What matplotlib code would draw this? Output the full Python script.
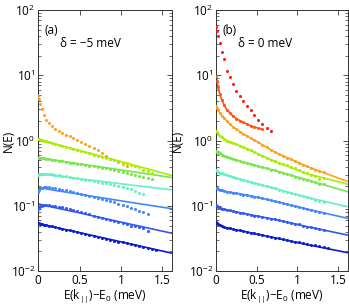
import numpy as np
import matplotlib
matplotlib.use("Agg")
import matplotlib.pyplot as plt

plt.rcParams['font.family'] = ['Open Sans', 'DejaVu Sans']
plt.rcParams['mathtext.fontset'] = 'custom'
plt.rcParams['mathtext.rm'] = 'Open Sans'
plt.rcParams['mathtext.it'] = 'Open Sans:italic'

# energy grid of the measured points (meV)
x_dots = [0, 0.01, 0.025, 0.045, 0.07, 0.1, 0.135, 0.17, 0.21, 0.25, 0.29, 0.335,
          0.38, 0.425, 0.47, 0.52, 0.57, 0.62, 0.67, 0.72, 0.77, 0.82, 0.87, 0.92,
          0.97, 1.02, 1.07, 1.12, 1.17, 1.22, 1.27, 1.32, 1.37, 1.42]
# energy grid of the fitted curves (meV)
x_fit = [0, 0.02, 0.05, 0.1, 0.2, 0.33, 0.5, 0.72, 1.12, 1.65]

c_red = '#ff1a1a'
c_ored = '#ff5512'
c_orange = '#ffa21e'
c_ygreen = '#a8ee00'
c_green = '#78e64a'
c_cyan = '#66f0c6'
c_lblue = '#4088ff'
c_blue = '#3358f2'
c_dblue = '#0a1ecf'

# ---- panel (a): delta = -5 meV ----
a_orange = [4.8, 4.3, 3.7, 3.1, 2.5, 2.1, 1.85, 1.65, 1.48, 1.38, 1.3, 1.24, 1.17,
            1.1, 1.03, 0.96, 0.9, 0.83, 0.76, 0.71, 0.64, 0.58, 0.53, 0.5, 0.47,
            0.44, 0.41]
a_ygreen = [1.05, 1.04, 1.03, 1.01, 0.99, 0.97, 0.94, 0.91, 0.88, 0.86, 0.83, 0.8,
            0.77, 0.75, 0.72, 0.69, 0.66, 0.64, 0.61, 0.59, 0.57, 0.55, 0.52, 0.5,
            0.48, 0.46, 0.45, 0.43, 0.41, 0.39, 0.36, 0.34, 0.32]
a_green = [0.55, 0.55, 0.55, 0.545, 0.54, 0.53, 0.52, 0.51, 0.5, 0.49, 0.48, 0.47,
           0.46, 0.455, 0.445, 0.44, 0.425, 0.415, 0.405, 0.395, 0.385, 0.375,
           0.365, 0.355, 0.345, 0.335, 0.32, 0.31, 0.3, 0.29, 0.28, 0.27, 0.26]
a_cyan = [0.3, 0.305, 0.31, 0.312, 0.313, 0.312, 0.31, 0.305, 0.3, 0.295, 0.29,
          0.284, 0.278, 0.272, 0.265, 0.258, 0.252, 0.246, 0.24, 0.234, 0.228,
          0.222, 0.216, 0.21, 0.204, 0.198, 0.19, 0.18, 0.17, 0.16, 0.15]
a_lblue = [0.165, 0.175, 0.185, 0.19, 0.193, 0.194, 0.193, 0.19, 0.186, 0.182,
           0.178, 0.173, 0.168, 0.163, 0.158, 0.153, 0.148, 0.143, 0.138, 0.133,
           0.128, 0.123, 0.118, 0.113, 0.108, 0.103, 0.098, 0.093, 0.088, 0.084,
           0.08, 0.076]
a_blue = [0.088, 0.093, 0.098, 0.101, 0.103, 0.104, 0.103, 0.101, 0.099, 0.097,
          0.095, 0.092, 0.089, 0.086, 0.083, 0.08, 0.077, 0.074, 0.071, 0.068,
          0.066, 0.063, 0.061, 0.058, 0.056, 0.054, 0.052, 0.05, 0.05, 0.048,
          0.045, 0.041]
a_dblue = [0.054, 0.0537, 0.0531, 0.0523, 0.0513, 0.0506, 0.0494, 0.0483, 0.047,
           0.0458, 0.0446, 0.0433, 0.042, 0.0408, 0.0396, 0.0383, 0.037, 0.0358,
           0.0347, 0.0335, 0.0325, 0.0314, 0.0304, 0.0294, 0.0284, 0.0275, 0.0266,
           0.0258, 0.0249, 0.0241, 0.0233, 0.0226, 0.0218, 0.0211]

a_fit_ygreen = [1.05, 1.033, 1.009, 0.968, 0.893, 0.808, 0.705, 0.595, 0.433, 0.283]
a_fit_green = [0.55, 0.545, 0.538, 0.526, 0.503, 0.475, 0.441, 0.401, 0.337, 0.267]
a_fit_cyan = [0.31, 0.308, 0.305, 0.3, 0.289, 0.277, 0.26, 0.241, 0.209, 0.174]
a_fit_lblue = [0.19, 0.188, 0.186, 0.182, 0.173, 0.163, 0.151, 0.136, 0.113, 0.089]
a_fit_blue = [0.107, 0.106, 0.104, 0.1, 0.0941, 0.0868, 0.078, 0.0676, 0.0522, 0.0372]
a_fit_dblue = [0.054, 0.0533, 0.0522, 0.0504, 0.047, 0.0434, 0.0389, 0.0337, 0.026, 0.0184]

# ---- panel (b): delta = 0 meV ----
b_red = [55, 47, 40, 31, 23, 17.5, 11.8, 9.6, 7.4, 5.8, 4.8, 4.0, 3.4, 2.9, 2.5,
         2.1, 1.8, 1.56, 1.4]
b_ored = [9.8, 8.2, 6.6, 5.2, 4.2, 3.5, 2.95, 2.65, 2.35, 2.18, 2.03, 1.9, 1.8,
          1.7, 1.62, 1.55, 1.48]
b_orange = [3.4, 3.15, 2.9, 2.65, 2.42, 2.2, 1.98, 1.8, 1.62, 1.48, 1.37, 1.26,
            1.17, 1.09, 1.01, 0.94, 0.86, 0.79, 0.73, 0.68, 0.63, 0.59, 0.55, 0.52,
            0.49, 0.46, 0.43, 0.405, 0.385, 0.36, 0.345, 0.33]
b_ygreen = [1.4, 1.34, 1.26, 1.19, 1.12, 1.05, 1.0, 0.96, 0.92, 0.88, 0.84, 0.8,
            0.75, 0.71, 0.67, 0.63, 0.59, 0.55, 0.51, 0.48, 0.46, 0.44, 0.42, 0.4,
            0.38, 0.355, 0.335, 0.315, 0.3, 0.29, 0.26, 0.27]
b_green = [0.7, 0.68, 0.655, 0.635, 0.61, 0.59, 0.57, 0.55, 0.53, 0.51, 0.49, 0.47,
           0.455, 0.44, 0.42, 0.405, 0.39, 0.375, 0.36, 0.35, 0.335, 0.32, 0.305,
           0.295, 0.28, 0.27, 0.26, 0.25, 0.24, 0.23, 0.215, 0.22]
b_cyan = [0.35, 0.342, 0.332, 0.323, 0.314, 0.305, 0.296, 0.288, 0.28, 0.27, 0.26,
          0.25, 0.242, 0.234, 0.226, 0.218, 0.21, 0.201, 0.193, 0.185, 0.178, 0.171,
          0.164, 0.158, 0.152, 0.146, 0.14, 0.135, 0.13, 0.124, 0.119, 0.114]
b_lblue = [0.19, 0.186, 0.18, 0.176, 0.172, 0.168, 0.165, 0.162, 0.159, 0.156,
           0.153, 0.149, 0.146, 0.142, 0.139, 0.135, 0.131, 0.127, 0.122, 0.118,
           0.114, 0.111, 0.107, 0.103, 0.1, 0.097, 0.093, 0.09, 0.087, 0.084, 0.081,
           0.078]
b_blue = [0.103, 0.1, 0.096, 0.093, 0.091, 0.089, 0.087, 0.085, 0.083, 0.081, 0.079,
          0.077, 0.075, 0.073, 0.071, 0.069, 0.067, 0.065, 0.064, 0.062, 0.06, 0.058,
          0.057, 0.055, 0.053, 0.052, 0.05, 0.048, 0.047, 0.045, 0.044, 0.042]
b_dblue = [0.056, 0.054, 0.052, 0.0505, 0.049, 0.047, 0.046, 0.045, 0.044, 0.043,
           0.042, 0.041, 0.0398, 0.0388, 0.0378, 0.0368, 0.0358, 0.0347, 0.0336,
           0.0326, 0.0317, 0.0308, 0.03, 0.0292, 0.0284, 0.0276, 0.0269, 0.0262,
           0.0255, 0.0248, 0.0241, 0.0235, 0.0228]

b_fit_orange = [3.4, 3.0, 2.6, 2.2, 1.65, 1.28, 0.97, 0.67, 0.4, 0.228]
b_fit_ygreen = [1.4, 1.28, 1.17, 1.05, 0.93, 0.8, 0.64, 0.48, 0.31, 0.21]
b_fit_green = [0.7, 0.66, 0.63, 0.59, 0.53, 0.47, 0.41, 0.35, 0.25, 0.16]
b_fit_cyan = [0.35, 0.335, 0.32, 0.305, 0.28, 0.25, 0.22, 0.185, 0.135, 0.095]
b_fit_lblue = [0.19, 0.18, 0.174, 0.168, 0.16, 0.15, 0.136, 0.118, 0.089, 0.063]
b_fit_blue = [0.103, 0.097, 0.093, 0.089, 0.083, 0.077, 0.07, 0.062, 0.048, 0.035]
b_fit_dblue = [0.056, 0.052, 0.05, 0.047, 0.044, 0.041, 0.037, 0.0325, 0.0255, 0.0188]


def dots(ax, y, color):
    ax.plot(x_dots[:len(y)], y, 'o', ms=2.2, mec='none', color=color, zorder=3)


def fit(ax, y, color):
    ax.plot(x_fit[:len(y)], y, '-', lw=1.2, color=color, zorder=2)


def style(ax, ylab_x):
    ax.set_yscale('log')
    ax.set_xlim(0, 1.62)
    ax.set_ylim(1e-2, 1e2)
    ax.set_xticks([0, 0.5, 1, 1.5])
    ax.set_xticklabels(['0', '0.5', '1', '1.5'])
    ax.tick_params(which='both', direction='in', top=True, right=True,
                   labelsize=8.5, pad=2, color='#333333')
    ax.tick_params(which='major', length=3.5, width=0.6)
    ax.tick_params(which='minor', length=2, width=0.5)
    for s in ax.spines.values():
        s.set_linewidth(0.7)
        s.set_color('#333333')
    ax.set_ylabel('N(E)', fontsize=8.5)
    ax.yaxis.set_label_coords(ylab_x, 0.5)
    ax.set_xlabel(r'E(k$_{||}$)$-$E$_0$ (meV)', fontsize=8.5, labelpad=1)


fig = plt.figure(figsize=(3.49, 3.06), dpi=100)
ax1 = fig.add_axes([0.109, 0.114, 0.385, 0.853])
ax2 = fig.add_axes([0.619, 0.114, 0.378, 0.853])

# panel (a)
for y, c in [(a_fit_ygreen, c_ygreen), (a_fit_green, c_green), (a_fit_cyan, c_cyan),
             (a_fit_lblue, c_lblue), (a_fit_blue, c_blue), (a_fit_dblue, c_dblue)]:
    fit(ax1, y, c)
for y, c in [(a_orange, c_orange), (a_ygreen, c_ygreen), (a_green, c_green),
             (a_cyan, c_cyan), (a_lblue, c_lblue), (a_blue, c_blue), (a_dblue, c_dblue)]:
    dots(ax1, y, c)
style(ax1, -0.17)
ax1.text(0.05, 0.92, '(a)', transform=ax1.transAxes, fontsize=8.5, va='center')
ax1.text(0.165, 0.872, 'δ = −5 meV', transform=ax1.transAxes, fontsize=8.5, va='center')

# panel (b)
ax2.plot(x_dots[:len(b_ored)], b_ored, '-', lw=1.2, color=c_ored, zorder=2)
for y, c in [(b_fit_orange, c_orange), (b_fit_ygreen, c_ygreen), (b_fit_green, c_green),
             (b_fit_cyan, c_cyan), (b_fit_lblue, c_lblue), (b_fit_blue, c_blue),
             (b_fit_dblue, c_dblue)]:
    fit(ax2, y, c)
for y, c in [(b_red, c_red), (b_ored, c_ored), (b_orange, c_orange), (b_ygreen, c_ygreen),
             (b_green, c_green), (b_cyan, c_cyan), (b_lblue, c_lblue), (b_blue, c_blue),
             (b_dblue, c_dblue)]:
    dots(ax2, y, c)
style(ax2, -0.24)
ax2.text(0.05, 0.92, '(b)', transform=ax2.transAxes, fontsize=8.5, va='center')
ax2.text(0.165, 0.872, 'δ = 0 meV', transform=ax2.transAxes, fontsize=8.5, va='center')

fig.savefig('out.png', dpi=100)
